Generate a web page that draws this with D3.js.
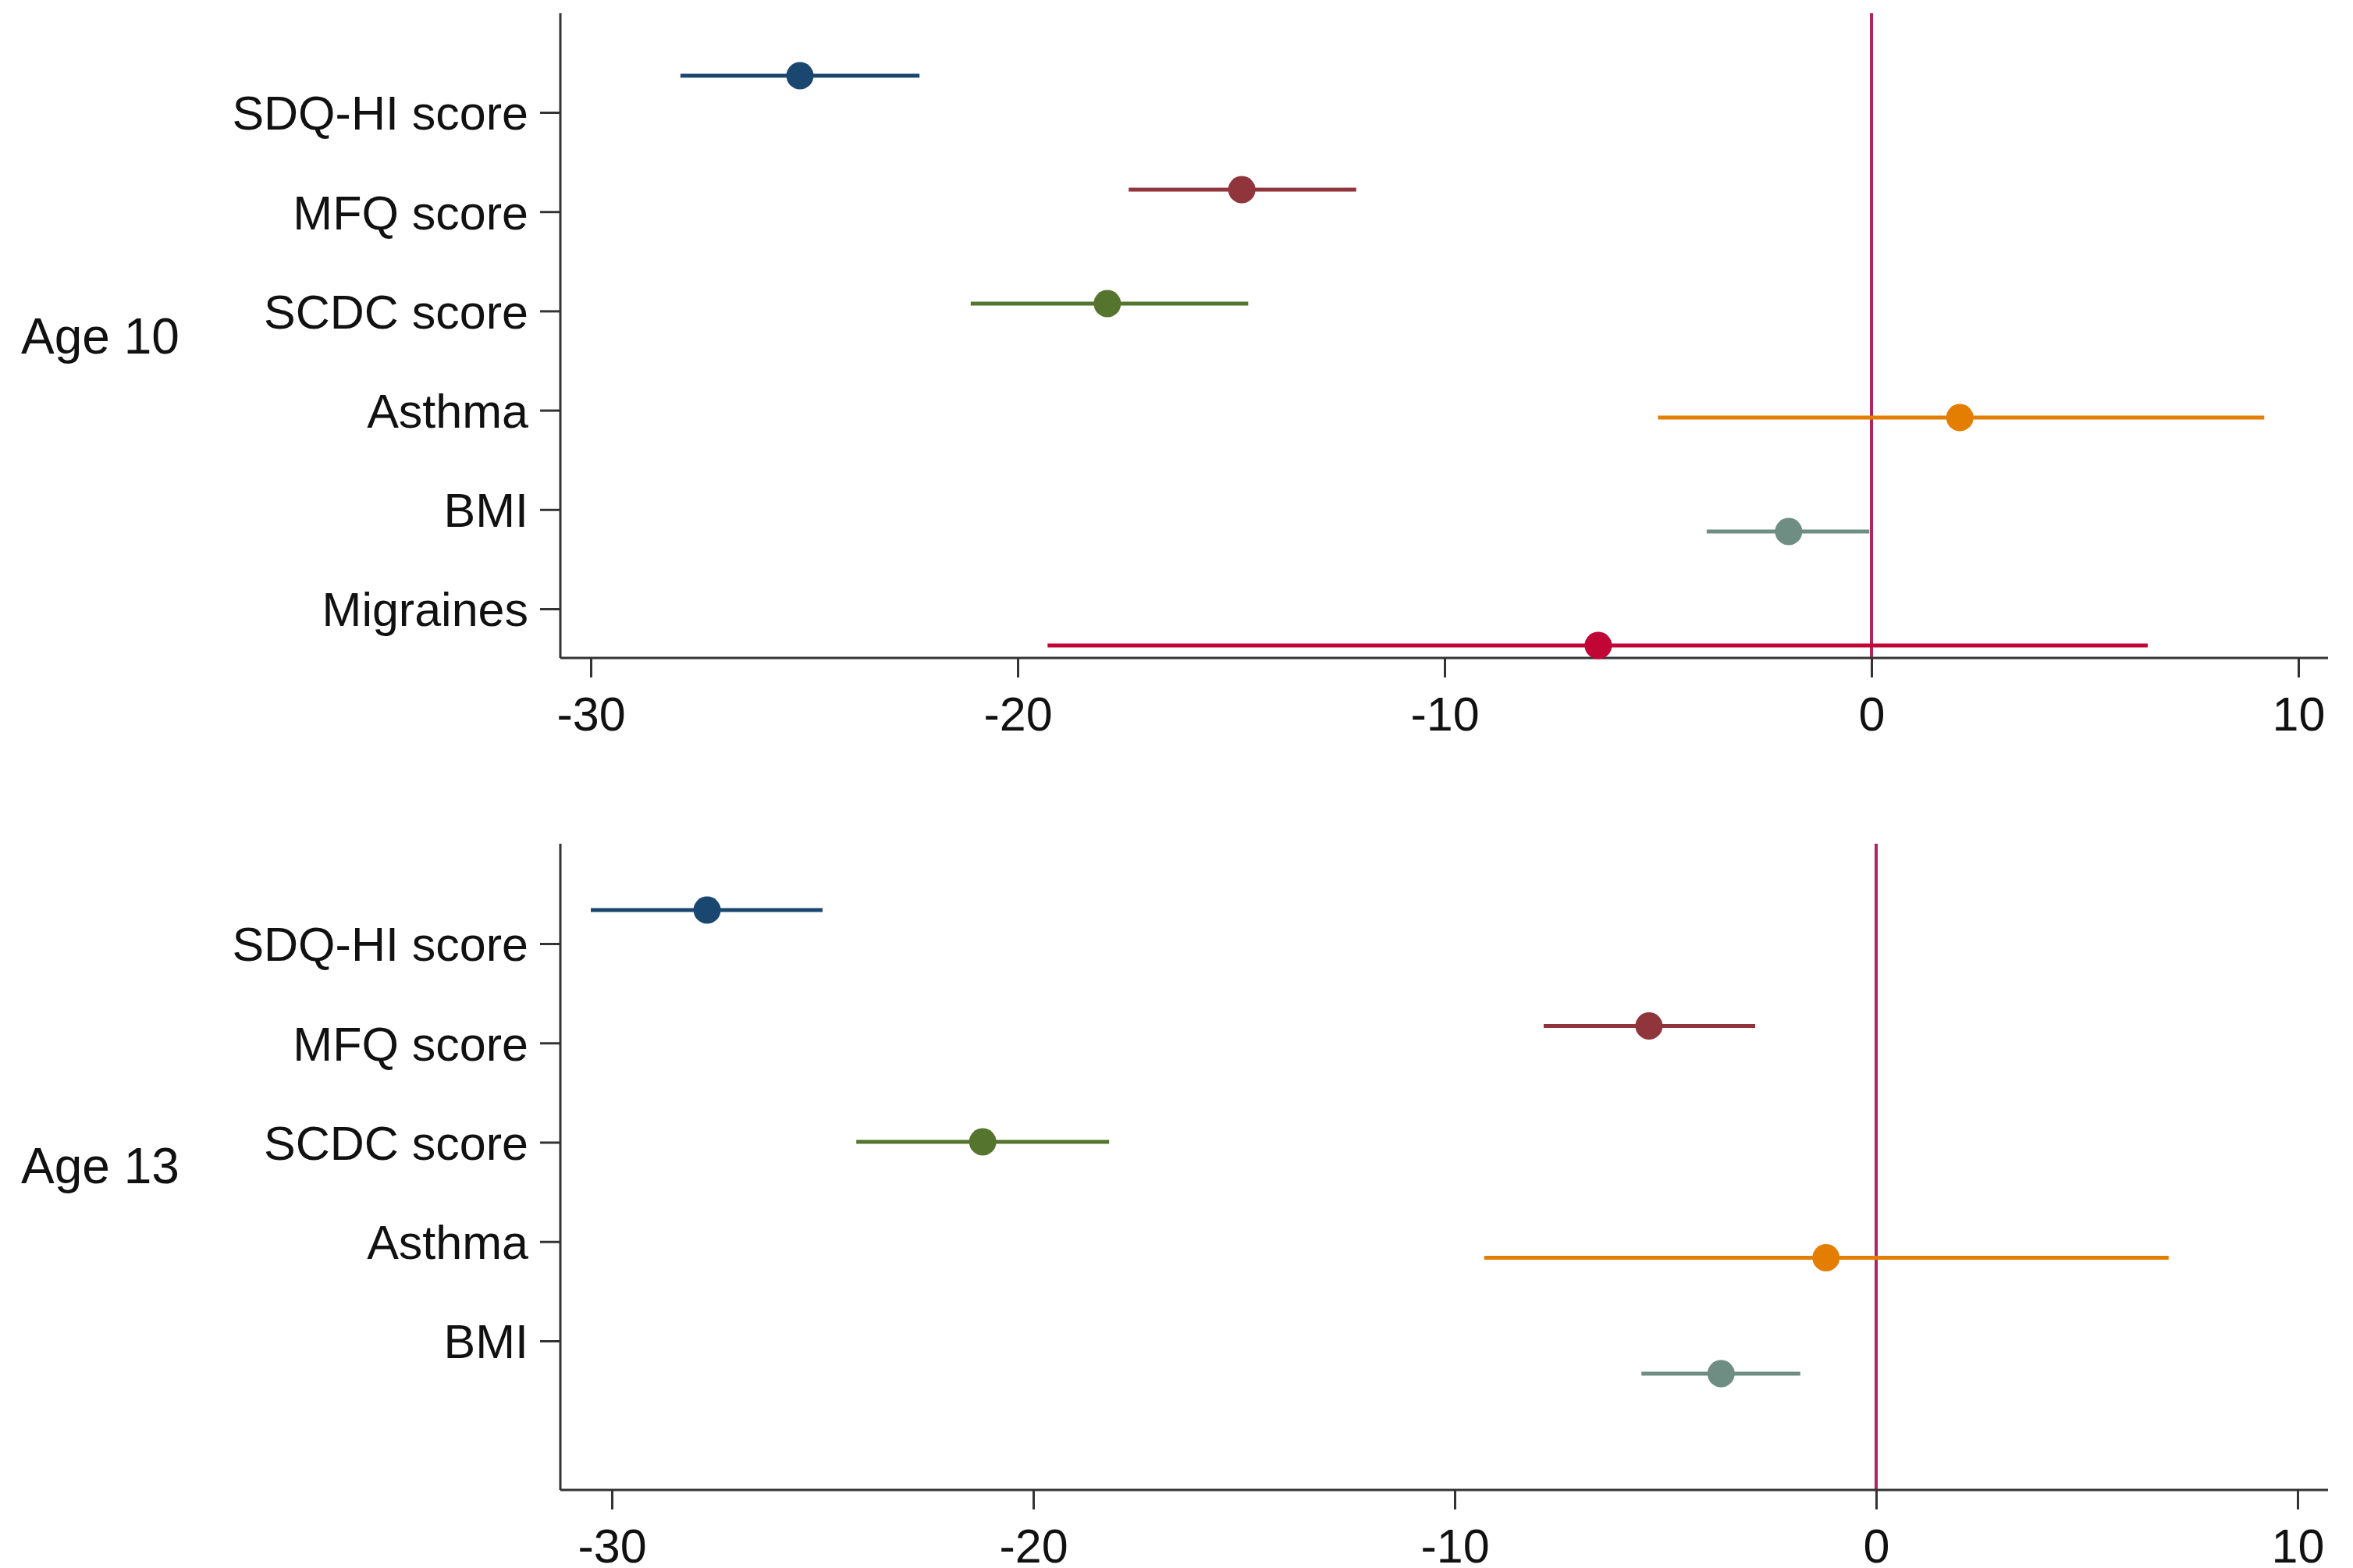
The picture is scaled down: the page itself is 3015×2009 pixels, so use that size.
<!DOCTYPE html>
<html>
<head>
<meta charset="utf-8">
<script src="https://cdn.jsdelivr.net/npm/d3@7"></script>
<style>
  html, body { margin: 0; padding: 0; background: #fff; }
  text { font-family: "Liberation Sans", Arial, sans-serif; fill: #111; }
</style>
</head>
<body>
<script>
// ---- data ----
var colours = ["#1a476f", "#90353b", "#55752f", "#e37e00", "#6e8e84", "#c10534"];
var xTicks = [-30, -20, -10, 0, 10];

var labels10 = ["SDQ-HI score", "MFQ score", "SCDC score", "Asthma", "BMI", "Migraines"];
var est10 = [-25.1, -14.75, -17.9, 2.07, -1.94, -6.4];
var lo10  = [-27.9, -17.4, -21.1, -5.0, -3.86, -19.3];
var hi10  = [-22.3, -12.07, -14.6, 9.2, -0.05, 6.47];

var labels13 = ["SDQ-HI score", "MFQ score", "SCDC score", "Asthma", "BMI"];
var est13 = [-27.74, -5.39, -21.2, -1.19, -3.68];
var lo13  = [-30.5, -7.89, -24.2, -9.3, -5.57];
var hi13  = [-25.0, -2.87, -18.2, 6.94, -1.80];

var W = 3015, H = 2009;
var svg = d3.select("body").append("svg")
    .attr("width", W).attr("height", H);

// one panel = one coefplot
function Draw_Panel(opt) {
  var g = svg.append("g");
  var x = d3.scaleLinear().domain([-30, 10]).range(opt.xRange);
  // label ticks and markers sit on slightly different grids (as in the original)
  var yLab = d3.scalePoint().domain(opt.labels).range(opt.labRange);
  var yDot = d3.scalePoint().domain(opt.labels).range(opt.dotRange);

  var rows = opt.labels.map(function(l, i) {
    return { name: l, est: opt.est[i], lo: opt.lo[i], hi: opt.hi[i], col: colours[i] };
  });

  // reference line at zero
  g.append("line")
    .attr("x1", x(0)).attr("x2", x(0))
    .attr("y1", opt.top).attr("y2", opt.bottom)
    .attr("stroke", "#b02560").attr("stroke-width", 4);

  // y axis
  var yAxis = g.append("g")
    .attr("transform", "translate(" + opt.left + ",0)")
    .call(d3.axisLeft(yLab).tickSize(26).tickPadding(15).tickSizeOuter(0));
  yAxis.select(".domain").remove();
  g.append("line")
    .attr("x1", opt.left).attr("x2", opt.left)
    .attr("y1", opt.top).attr("y2", opt.bottom)
    .attr("stroke", "#333").attr("stroke-width", 3);
  yAxis.selectAll(".tick line").attr("stroke", "#333").attr("stroke-width", 3);
  yAxis.selectAll(".tick text")
    .style("font-size", "61px").attr("dy", "0.36em");

  // x axis (plain hyphen for minus, like the original)
  var xAxis = g.append("g")
    .attr("transform", "translate(0," + opt.bottom + ")")
    .call(d3.axisBottom(x).tickValues(xTicks).tickSize(25).tickSizeOuter(0)
      .tickFormat(function(d) { return String(d); }));
  xAxis.select(".domain").remove();
  g.append("line")
    .attr("x1", opt.left).attr("x2", opt.right)
    .attr("y1", opt.bottom).attr("y2", opt.bottom)
    .attr("stroke", "#333").attr("stroke-width", 3);
  xAxis.selectAll(".tick line").attr("stroke", "#333").attr("stroke-width", 3);
  xAxis.selectAll(".tick text")
    .style("font-size", "61px").attr("y", 93).attr("dy", 0);

  // confidence intervals
  g.selectAll(".ci").data(rows).enter().append("line")
    .attr("class", "ci")
    .attr("x1", function(d) { return x(d.lo); })
    .attr("x2", function(d) { return x(d.hi); })
    .attr("y1", function(d) { return yDot(d.name); })
    .attr("y2", function(d) { return yDot(d.name); })
    .attr("stroke", function(d) { return d.col; })
    .attr("stroke-width", 5);

  // point estimates
  g.selectAll(".pt").data(rows).enter().append("circle")
    .attr("class", "pt")
    .attr("cx", function(d) { return x(d.est); })
    .attr("cy", function(d) { return yDot(d.name); })
    .attr("r", 17.5)
    .attr("fill", function(d) { return d.col; });

  // group title
  g.append("text")
    .attr("x", 27).attr("y", opt.titleY)
    .style("font-size", "64px")
    .text(opt.title);
}

Draw_Panel({
  labels: labels10, est: est10, lo: lo10, hi: hi10,
  title: "Age 10", titleY: 453,
  left: 718, right: 2983, top: 17, bottom: 843,
  xRange: [757, 2945],
  labRange: [144, 780], dotRange: [97, 827]
});

Draw_Panel({
  labels: labels13, est: est13, lo: lo13, hi: hi13,
  title: "Age 13", titleY: 1516,
  left: 718, right: 2983, top: 1081, bottom: 1909,
  xRange: [784, 2944],
  labRange: [1209, 1718], dotRange: [1166, 1760]
});
</script>
</body>
</html>
